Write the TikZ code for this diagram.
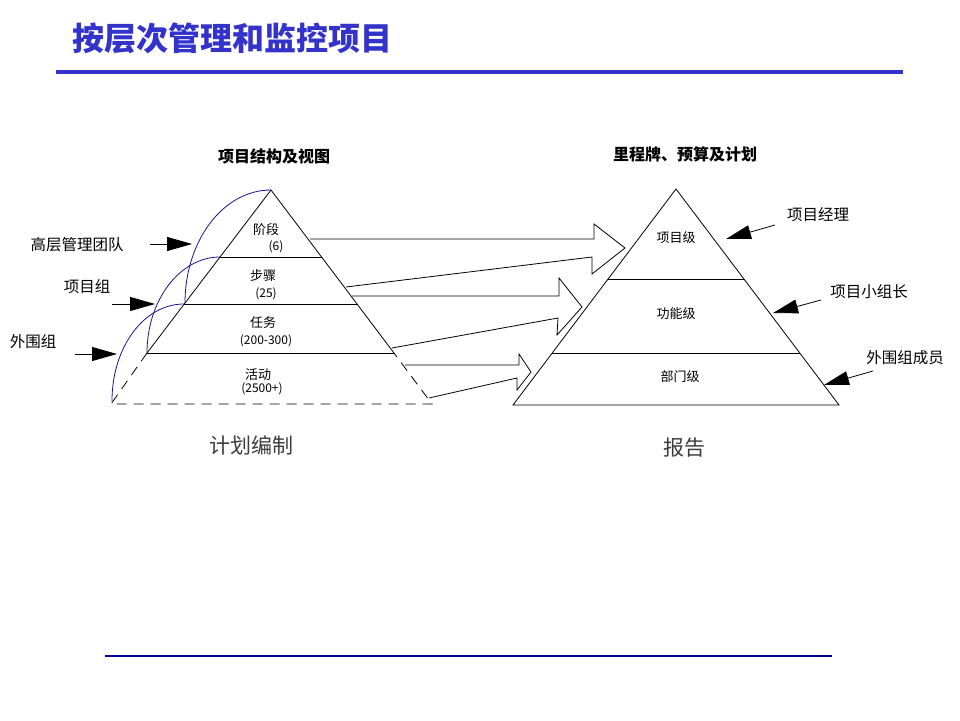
\documentclass[tikz,border=0pt]{standalone}
\usepackage{fontspec}
\setmainfont{Noto Sans CJK SC}
\usetikzlibrary{arrows.meta}
\definecolor{titleblue}{RGB}{51,51,204}
\definecolor{linenavy}{RGB}{0,0,153}
\definecolor{arcblue}{RGB}{20,20,140}
\definecolor{capgray}{RGB}{60,60,60}

\tikzset{
	lbl/.style={inner sep=0pt,font=\fontsize{15.5pt}{18pt}\selectfont},
	lvl/.style={inner sep=0pt,font=\fontsize{13pt}{15pt}\selectfont},
	num/.style={inner sep=0pt,font=\fontsize{12pt}{14pt}\selectfont},
	heading/.style={inner sep=0pt,font=\bfseries\fontsize{16pt}{18pt}\selectfont},
	captxt/.style={inner sep=0pt,text=capgray,font=\fontsize{21pt}{24pt}\selectfont},
	pointer/.style={-{Triangle[length=25pt,width=14pt]},line width=0.8pt},
	edge/.style={line width=0.8pt},
	hollow/.style={line width=0.8pt,line join=miter},
}

\begin{document}
\begin{tikzpicture}[x=1pt,y=-1pt]
	\useasboundingbox (0,0) rectangle (960,720);
	% title and rules
	\node[inner sep=0pt,anchor=west,text=titleblue,font=\bfseries\fontsize{32pt}{35pt}\selectfont](title) at (72,38){按层次管理和监控项目};
	\draw[titleblue,line width=4pt](56,72) -- (903,72);
	\draw[linenavy,line width=1.2pt](105,656) -- (832,656);

	% left pyramid
	\coordinate (apexL) at (271,190);
	\coordinate (l1) at (220,257); \coordinate (r1) at (322,257);
	\coordinate (l2) at (184,304); \coordinate (r2) at (358,304);
	\coordinate (l3) at (147,353); \coordinate (r3) at (394,353);
	\coordinate (l4) at (111,404); \coordinate (r4) at (432,404);
	\draw[edge](l3) -- (apexL) -- (r3);
	\draw[edge](l1) -- (r1);
	\draw[edge](l2) -- (r2);
	\draw[edge](l3) -- (r3);
	\draw[edge,dash pattern=on 10pt off 7pt](l3) -- (l4) -- (r4) -- (r3);
	\draw[arcblue,line width=0.8pt](apexL) .. controls (223,190) and (185,241) .. (185,303);
	\draw[arcblue,line width=0.8pt](l1) .. controls (180,257) and (147,300) .. (147,353);
	\draw[arcblue,line width=0.8pt](l2) .. controls (144,304) and (112,347) .. (112,401);

	\node[heading](headL) at (274,156){项目结构及视图};
	\node[lvl](phase) at (266,230){阶段};
	\node[num](phaseN) at (276,247){(6)};
	\node[lvl](step) at (263,276){步骤};
	\node[num](stepN) at (266,294){(25)};
	\node[lvl](task) at (263,323){任务};
	\node[num](taskN) at (266,341){(200-300)};
	\node[lvl](act) at (258,375){活动};
	\node[num](actN) at (262,389){(2500+)};
	\node[captxt](plan) at (251,445){计划编制};

	% left labels
	\node[lbl](mgmt) at (77,245){高层管理团队};
	\node[lbl](team) at (87,287){项目组};
	\node[lbl](outer) at (33,342){外围组};
	\coordinate (mgmtS) at (150,244); \coordinate (mgmtE) at (192,244);
	\coordinate (teamS) at (112,304); \coordinate (teamE) at (155,304);
	\coordinate (outerS) at (75,354); \coordinate (outerE) at (117,354);
	\draw[pointer](mgmtS) -- (mgmtE);
	\draw[pointer](teamS) -- (teamE);
	\draw[pointer](outerS) -- (outerE);

	% right pyramid
	\coordinate (apexR) at (676,189);
	\coordinate (p1l) at (608,279); \coordinate (p1r) at (745,279);
	\coordinate (p2l) at (552,353); \coordinate (p2r) at (800,353);
	\coordinate (bl) at (513,405); \coordinate (br) at (839,405);
	\draw[edge](apexR) -- (bl) -- (br) -- cycle;
	\draw[edge](p1l) -- (p1r);
	\draw[edge](p2l) -- (p2r);

	\node[heading](headR) at (685,154){里程牌、预算及计划};
	\node[lvl](proj) at (676,238){项目级};
	\node[lvl](func) at (676,314){功能级};
	\node[lvl](dept) at (680,377){部门级};
	\node[captxt](report) at (684,448){报告};

	% right labels
	\node[lbl](pm) at (818,215){项目经理};
	\node[lbl](lead) at (869,292){项目小组长};
	\node[lbl](member) at (905,358){外围组成员};
	\coordinate (pmS) at (775,225); \coordinate (pmE) at (726,239);
	\coordinate (leadS) at (821,300); \coordinate (leadE) at (773,313);
	\coordinate (memberS) at (873,371); \coordinate (memberE) at (824,385);
	\draw[pointer](pmS) -- (pmE);
	\draw[pointer](leadS) -- (leadE);
	\draw[pointer](memberS) -- (memberE);

	% hollow arrows between the pyramids
	\draw[hollow](310,239) -- (594,239) -- (594,224) -- (625,248) -- (592,274) -- (592,257) -- (346,287);
	\draw[hollow](352,296) -- (559,296) -- (559,278) -- (582,307) -- (557,335) -- (558,318) -- (392,348);
	\draw[hollow](405,365) -- (519,365) -- (519,354) -- (531,372) -- (517,390) -- (517,378) -- (429,398);
\end{tikzpicture}
\end{document}
